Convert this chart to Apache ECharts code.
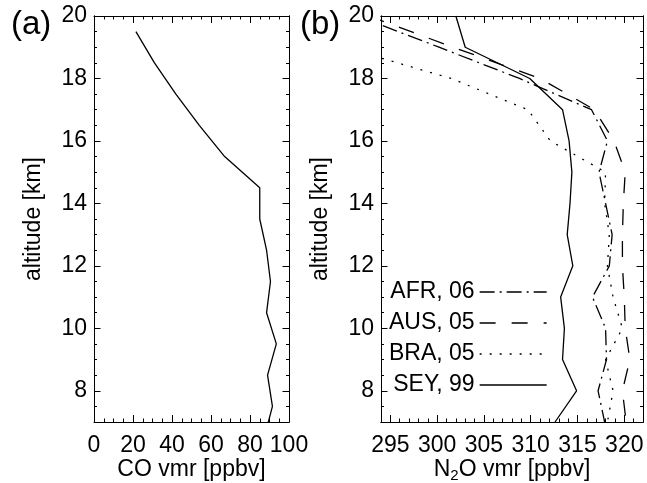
<!DOCTYPE html>
<html>
<head>
<meta charset="utf-8">
<script src="https://cdn.jsdelivr.net/npm/echarts@6/dist/echarts.min.js"></script>
<style>
html,body{margin:0;padding:0;background:#fff;}
#chart{width:647px;height:483px;}
</style>
</head>
<body>
<div id="chart"></div>
<script>
// ---- Data ----
// Panel (a): CO profile
const altCO = [19.5, 18.5, 17.5, 16.5, 15.5, 14.5, 13.5, 12.5, 11.5, 10.5, 9.5, 8.5, 7.5, 6.5];
const coVmr = [21.5, 31, 42, 54, 67, 85, 85, 88.5, 90.5, 88.5, 93.5, 89, 91.5, 87.3];

// Panel (b): N2O profiles
const altN2O = [20, 19, 18, 17, 16, 15, 14, 13, 12, 11, 10, 9, 8, 7];
const afr = [291.5, 300.2, 308.8, 316.5, 318.2, 317.3, 318.0, 318.7, 318.4, 316.6, 318.0, 318.1, 317.2, 317.9];
const aus = [292.7, 301.7, 311.0, 316.8, 318.9, 320.1, 319.9, 319.8, 319.8, 320.0, 320.1, 320.6, 319.8, 320.2];
const bra = [null, 290.0, 301.5, 309.7, 312.1, 318.0, 317.9, 318.4, 318.2, 318.8, 319.8, 318.0, 318.8, 318.2];
const sey = [302.0, 303.0, 309.9, 313.4, 314.1, 314.4, 314.2, 313.9, 314.5, 313.2, 313.6, 313.4, 314.9, 312.6];

const seriesNames = ['AFR, 06', 'AUS, 05', 'BRA, 05', 'SEY, 99'];

// axis ranges
const coRange = [0, 100];
const n2oRange = [294, 322];
const altRange = [7, 20];

// ---- Chart ----
const FONT = "'Liberation Sans', Arial, Helvetica, sans-serif";
const BLACK = '#000';
const FS = 23;

function pairs(xs, ys) {
  const out = [];
  for (let i = 0; i < ys.length; i++) {
    if (xs[i] != null) out.push([xs[i], ys[i]]);
  }
  return out;
}

function axis(gridIndex, position, range, o) {
  const a = {
    type: 'value', gridIndex: gridIndex, position: position,
    min: range[0], max: range[1],
    splitLine: {show: false},
    axisLine: {show: true, onZero: false, lineStyle: {color: BLACK, width: 1}},
    axisTick: {show: true, inside: true, length: o.tickLen, lineStyle: {color: BLACK, width: 1}},
    axisLabel: {show: false},
    minorTick: {show: false}
  };
  if (o.interval != null) a.interval = o.interval;
  if (o.splitNumber != null) a.splitNumber = o.splitNumber;
  if (o.minor) a.minorTick = {show: true, splitNumber: o.minor, length: o.minorLen, lineStyle: {color: BLACK, width: 1}};
  if (o.labels) {
    a.axisLabel = {show: true, color: BLACK, fontSize: FS, fontFamily: FONT, margin: o.margin,
      showMinLabel: o.showMin, showMaxLabel: o.showMax};
  }
  if (o.name) {
    a.name = o.name;
    a.nameLocation = 'middle';
    a.nameGap = o.nameGap;
    a.nameMoveOverlap = false;
    a.nameTextStyle = {color: BLACK, fontSize: FS, fontFamily: FONT, lineHeight: 26,
      rich: {s: {fontSize: 15, lineHeight: 15, verticalAlign: 'bottom', fontFamily: FONT, color: BLACK}}};
  }
  return a;
}

const xAxes = [
  // grid 0 (CO)
  axis(0, 'bottom', coRange, {interval: 20, tickLen: 7, minor: 4, minorLen: 3.5, labels: true, margin: 12,
    showMin: true, showMax: true, name: 'CO vmr [ppbv]', nameGap: 35}),
  axis(0, 'top', coRange, {interval: 20, tickLen: 7, minor: 4, minorLen: 3.5}),
  // grid 1 (N2O)
  axis(1, 'bottom', n2oRange, {interval: 1, tickLen: 3.5}),
  axis(1, 'bottom', n2oRange, {splitNumber: 5, tickLen: 7, labels: true, margin: 12,
    showMin: false, showMax: false, name: 'N{s|2}O vmr [ppbv]', nameGap: 35}),
  axis(1, 'top', n2oRange, {interval: 1, tickLen: 3.5}),
  axis(1, 'top', n2oRange, {splitNumber: 5, tickLen: 7})
];

const yAxes = [
  axis(0, 'left', altRange, {interval: 0.5, tickLen: 3}),
  axis(0, 'left', altRange, {splitNumber: 6, tickLen: 6.5, labels: true, margin: 7,
    showMin: false, showMax: true, name: 'altitude [km]', nameGap: 47}),
  axis(0, 'right', altRange, {interval: 0.5, tickLen: 3}),
  axis(0, 'right', altRange, {splitNumber: 6, tickLen: 6.5}),
  axis(1, 'left', altRange, {interval: 0.5, tickLen: 3}),
  axis(1, 'left', altRange, {splitNumber: 6, tickLen: 6.5, labels: true, margin: 7,
    showMin: false, showMax: true, name: 'altitude [km]', nameGap: 47}),
  axis(1, 'right', altRange, {interval: 0.5, tickLen: 3}),
  axis(1, 'right', altRange, {splitNumber: 6, tickLen: 6.5})
];

const LW = 1.3;
function lineSeries(name, data, type) {
  return {
    type: 'line', name: name, xAxisIndex: 3, yAxisIndex: 5,
    data: data, symbol: 'none', showSymbol: false, clip: true, silent: true,
    lineStyle: {color: BLACK, width: LW, type: type},
    itemStyle: {color: 'rgba(0,0,0,0)', borderWidth: 0, opacity: 0}
  };
}

const option = {
  animation: false,
  backgroundColor: '#fff',
  textStyle: {fontFamily: FONT},
  grid: [
    {left: 94, top: 16, width: 195, height: 406, containLabel: false, outerBoundsMode: 'none'},
    {left: 381, top: 16, width: 262, height: 406, containLabel: false, outerBoundsMode: 'none'}
  ],
  xAxis: xAxes,
  yAxis: yAxes,
  legend: {
    data: seriesNames,
    orient: 'vertical',
    left: 389, top: 280,
    align: 'right',
    itemWidth: 67, itemHeight: 14, itemGap: 7,
    padding: 0,
    itemStyle: {opacity: 0, borderWidth: 0},
    lineStyle: {color: BLACK, width: LW},
    textStyle: {color: BLACK, fontSize: FS, fontFamily: FONT, lineHeight: 24},
    selectedMode: false
  },
  graphic: [
    {type: 'text', left: 11, top: 8, style: {text: '(a)', fontSize: 33, fill: BLACK, fontFamily: FONT}},
    {type: 'text', left: 300, top: 8, style: {text: '(b)', fontSize: 33, fill: BLACK, fontFamily: FONT}}
  ],
  series: [
    {
      type: 'line', name: 'CO', xAxisIndex: 0, yAxisIndex: 1,
      data: pairs(coVmr, altCO), symbol: 'none', showSymbol: false, clip: true, silent: true,
      lineStyle: {color: BLACK, width: LW}
    },
    lineSeries(seriesNames[0], pairs(afr, altN2O), [15, 5, 2, 5]),
    lineSeries(seriesNames[1], pairs(aus, altN2O), [16, 16]),
    lineSeries(seriesNames[2], pairs(bra, altN2O), [2, 8]),
    lineSeries(seriesNames[3], pairs(sey, altN2O), 'solid')
  ]
};

const chart = echarts.init(document.getElementById('chart'), null, {renderer: 'canvas'});
chart.setOption(option);
</script>
</body>
</html>
